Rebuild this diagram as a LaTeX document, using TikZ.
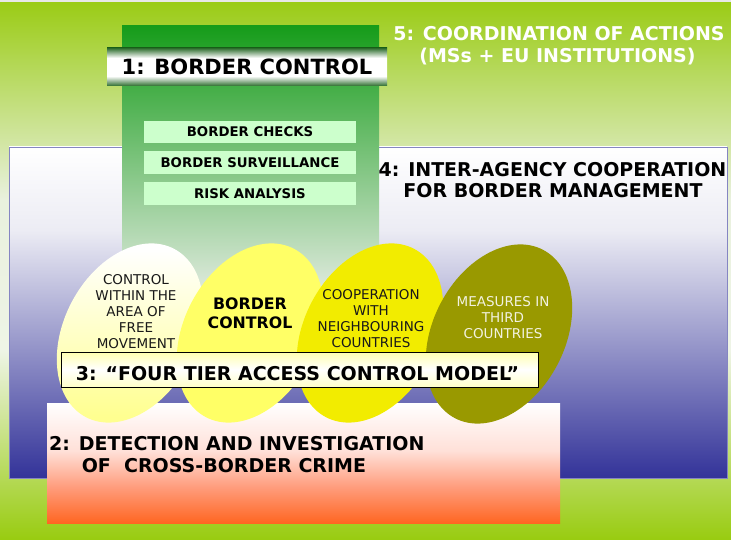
\documentclass[tikz,border=0pt]{standalone}
\usepackage{fontspec}
\setmainfont{DejaVu Sans}
\usetikzlibrary{shadings}
\definecolor{bgA}{HTML}{99CC11}
\definecolor{bgB}{HTML}{EEF4E6}
\definecolor{bgC}{HTML}{E9F1DE}
\definecolor{bgD}{HTML}{9BCC17}
\definecolor{bxB}{HTML}{333399}
\definecolor{bxL}{HTML}{ECECF4}
\definecolor{mtG}{HTML}{2C6C2C}
\definecolor{b3T}{HTML}{FFFFB0}
\definecolor{b3B}{HTML}{FFFFC8}
\definecolor{b2A}{HTML}{FF6622}
\definecolor{b2B}{HTML}{FF9C7C}
\definecolor{b2C}{HTML}{FFE0D8}
\definecolor{colT}{HTML}{169C1A}
\definecolor{colB}{HTML}{E2EBE0}
\definecolor{gbox}{HTML}{CCFFCC}
\definecolor{eA}{HTML}{FFFF90}
\definecolor{eB}{HTML}{FFFF66}
\definecolor{eC}{HTML}{F2EC00}
\definecolor{eD}{HTML}{999900}
\definecolor{eDtext}{HTML}{F2F2E0}
\pgfdeclareverticalshading{bgshade}{100bp}{color(0bp)=(bgA); color(25bp)=(bgA); color(42.6bp)=(bgB); color(56.6bp)=(bgC); color(75bp)=(bgD); color(100bp)=(bgD)}
\pgfdeclareverticalshading{blueshade}{100bp}{color(0bp)=(bxB); color(25bp)=(bxB); color(62.5bp)=(bxL); color(75bp)=(white); color(100bp)=(white)}
\pgfdeclareverticalshading{metalshade}{100bp}{color(0bp)=(mtG); color(25bp)=(mtG); color(38bp)=(white); color(62bp)=(white); color(75bp)=(mtG); color(100bp)=(mtG)}
\pgfdeclareverticalshading{tiershade}{100bp}{color(0bp)=(b3B); color(25bp)=(b3B); color(50bp)=(white); color(75bp)=(b3T); color(100bp)=(b3T)}
\pgfdeclareverticalshading{crimeshade}{100bp}{color(0bp)=(b2A); color(25bp)=(b2A); color(40bp)=(b2B); color(55bp)=(b2C); color(75bp)=(white); color(100bp)=(white)}
\tikzset{
  head/.style={font=\bfseries\fontsize{19}{22}\selectfont, inner sep=0pt},
  gboxnode/.style={fill=gbox, minimum width=212pt, minimum height=22.5pt, inner sep=0pt, font=\bfseries\fontsize{13.3}{15}\selectfont},
  etext/.style={align=center, inner sep=0pt, font=\fontsize{13.5}{16}\selectfont},
}
\begin{document}
\begin{tikzpicture}[x=1pt,y=1pt]
\useasboundingbox (0,0) rectangle (731,539);
% background
\fill[black!9] (0,535) rectangle (731,539);
\path[shading=bgshade] (0,0) rectangle (731,536);
% 4: blue box
\path[shading=blueshade, draw=bxB!60, line width=0.6pt] (9,61) rectangle (727,392);
% 1: green column
\path[top color=colT, bottom color=colB] (122,244) rectangle (379,513);
\node[shading=metalshade, minimum width=280pt, minimum height=38pt, inner sep=0pt, font=\bfseries\fontsize{21}{24}\selectfont] (t1) at (247,472) {1: BORDER CONTROL};
\node[gboxnode] (bc) at (250,407) {BORDER CHECKS};
\node[gboxnode] (bs) at (250,376.5) {BORDER SURVEILLANCE};
\node[gboxnode] (ra) at (250,345.5) {RISK ANALYSIS};
% 5 text
\node[head, text=white, anchor=base] (t5a) at (559,498) {5: COORDINATION OF ACTIONS};
\node[head, text=white, anchor=base] (t5b) at (557.5,476) {(MSs + EU INSTITUTIONS)};
% 4 text
\node[head, anchor=base] (t4a) at (552.5,362) {4: INTER-AGENCY COOPERATION};
\node[head, anchor=base] (t4b) at (553,341) {FOR BORDER MANAGEMENT};
% 2: box
\path[shading=crimeshade] (47,16) rectangle (560,136);
% ellipses
\shade[top color=white, bottom color=eA, rotate around={-27.6:(130,206)}] (130,206) ellipse [x radius=66pt, y radius=95pt];
\fill[eB, rotate around={-27.6:(250,206)}] (250,206) ellipse [x radius=66pt, y radius=95pt];
\fill[eC, rotate around={-27.6:(370,206)}] (370,206) ellipse [x radius=66pt, y radius=95pt];
\fill[eD, rotate around={-27.6:(499,205)}] (499,205) ellipse [x radius=66pt, y radius=95pt];
\node[etext, text=black!90] (e1t) at (136,227) {CONTROL\\WITHIN THE\\AREA OF\\FREE\\MOVEMENT};
\node[etext, font=\bfseries\fontsize{15.8}{19}\selectfont] (e2t) at (250,225.5) {BORDER\\CONTROL};
\node[etext, text=black!90] (e3t) at (371,220) {COOPERATION\\WITH\\NEIGHBOURING\\COUNTRIES};
\node[etext, text=eDtext] (e4t) at (503,221) {MEASURES IN\\THIRD\\COUNTRIES};
% 3: box
\node[shading=tiershade, draw=black, line width=0.8pt, minimum width=477pt, minimum height=35pt, inner sep=0pt] (b3) at (299.5,169.5) {};
\node[head] (t3) at (297.5,165) {3: “FOUR TIER ACCESS CONTROL MODEL”};
% 2 text
\node[head, anchor=base west] (t2a) at (49,89) {2: DETECTION AND INVESTIGATION};
\node[head, anchor=base west] (t2b) at (81.6,67) {OF\ \ CROSS-BORDER CRIME};
\end{tikzpicture}
\end{document}
